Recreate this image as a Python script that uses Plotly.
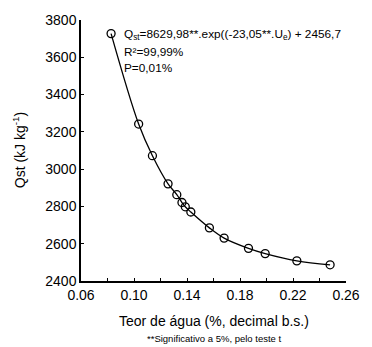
import plotly.graph_objects as go

teor = [0.0827, 0.1035, 0.1139, 0.1257, 0.1323, 0.1362, 0.1387, 0.1429, 0.1569, 0.1680, 0.1864, 0.1990, 0.2229, 0.2480]
qst = [3727, 3242, 3072, 2921, 2863, 2821, 2798, 2770, 2685, 2630, 2575, 2547, 2508, 2487]

x_ticks = [0.06, 0.10, 0.14, 0.18, 0.22, 0.26]
y_ticks = [2400, 2600, 2800, 3000, 3200, 3400, 3600, 3800]

FONT = "Liberation Sans, Arial, sans-serif"

fig = go.Figure()
fig.add_trace(go.Scatter(
    x=teor, y=qst, mode="lines",
    line=dict(color="black", width=1.3, shape="spline", smoothing=1.0),
    hoverinfo="skip", showlegend=False, cliponaxis=False))
fig.add_trace(go.Scatter(
    x=teor, y=qst, mode="markers",
    marker=dict(symbol="circle-open", size=8, color="black", line=dict(width=1.3)),
    showlegend=False, cliponaxis=False))

fig.update_layout(
    width=372, height=347,
    margin=dict(l=81, r=21, t=17, b=66),
    paper_bgcolor="white", plot_bgcolor="white",
    font=dict(family=FONT, color="black"),
    xaxis=dict(range=[0.06, 0.26], tickvals=x_ticks, ticktext=[f"{v:.2f}" for v in x_ticks],
               ticks="inside", ticklen=3, tickcolor="black", tickwidth=1,
               minor=dict(dtick=0.02, ticks="inside", ticklen=3, tickcolor="black", tickwidth=1),
               showline=True, linecolor="black", linewidth=1.5, showgrid=False, zeroline=False,
               tickfont=dict(size=14, family=FONT)),
    yaxis=dict(range=[2400, 3800], tickvals=y_ticks,
               ticks="inside", ticklen=3, tickcolor="black", tickwidth=1,
               showline=True, linecolor="black", linewidth=1.5, showgrid=False, zeroline=False,
               tickfont=dict(size=14, family=FONT)),
)

fig.add_annotation(text="Teor de água (%, decimal b.s.)", xref="paper", yref="paper",
                   x=0.5, y=-0.155, xanchor="center", yanchor="middle", showarrow=False,
                   font=dict(size=14, family=FONT))
fig.add_annotation(text="**Significativo a 5%, pelo teste t", xref="paper", yref="paper",
                   x=0.5, y=-0.222, xanchor="center", yanchor="middle", showarrow=False,
                   font=dict(size=9.5, family=FONT))
fig.add_annotation(text="Qst (kJ kg<sup>-1</sup>)", xref="paper", yref="paper",
                   x=-0.235, y=0.5, xanchor="center", yanchor="middle", textangle=-90, showarrow=False,
                   font=dict(size=14, family=FONT))

eq_lines = ["Q<sub>st</sub>=8629,98**.exp((-23,05**.U<sub>e</sub>) + 2456,7",
            "R²=99,99%", "P=0,01%"]
eq_y = [0.943, 0.879, 0.818]
for t, yy in zip(eq_lines, eq_y):
    fig.add_annotation(text=t, xref="paper", yref="paper", x=0.153, y=yy,
                       xanchor="left", yanchor="middle", showarrow=False,
                       font=dict(size=11.8, family=FONT))

fig.write_html("out.html")
